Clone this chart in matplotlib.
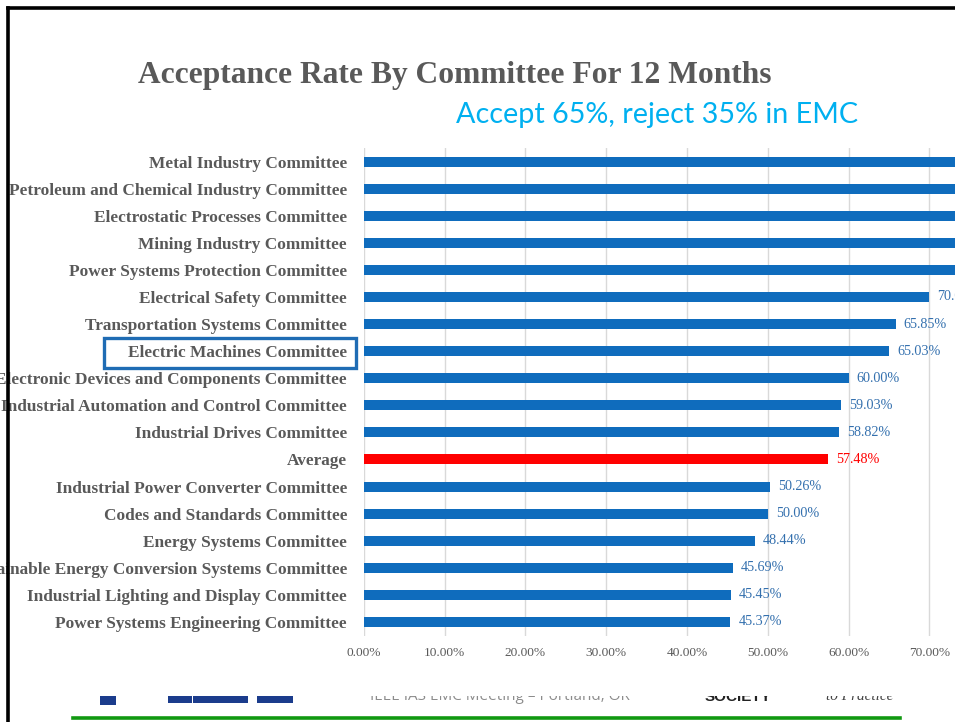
import matplotlib
matplotlib.use("Agg")
import matplotlib.pyplot as plt
from matplotlib.patches import Rectangle
from matplotlib.lines import Line2D

# ---------------- data ----------------
committees = [
    "Metal Industry Committee",
    "Petroleum and Chemical Industry Committee",
    "Electrostatic Processes Committee",
    "Mining Industry Committee",
    "Power Systems Protection Committee",
    "Electrical Safety Committee",
    "Transportation Systems Committee",
    "Electric Machines Committee",
    "Electronic Devices and Components Committee",
    "Industrial Automation and Control Committee",
    "Industrial Drives Committee",
    "Average",
    "Industrial Power Converter Committee",
    "Codes and Standards Committee",
    "Energy Systems Committee",
    "Sustainable Energy Conversion Systems Committee",
    "Industrial Lighting and Display Committee",
    "Power Systems Engineering Committee",
]
# acceptance rate in percent (first five exceed the visible range, estimated)
rates = [100.00, 90.00, 85.71, 80.00, 75.00, 70.00, 65.85, 65.03, 60.00,
         59.03, 58.82, 57.48, 50.26, 50.00, 48.44, 45.69, 45.45, 45.37]
xticks = [0, 10, 20, 30, 40, 50, 60, 70]
xtick_labels = ["0.00%", "10.00%", "20.00%", "30.00%", "40.00%", "50.00%", "60.00%", "70.00%"]

title = "Acceptance Rate By Committee For 12 Months"
subtitle = "Accept 65%, reject 35% in EMC"
footer = "IEEE IAS EMC Meeting \u2013 Portland, OR"

BLUE = "#0F6CBD"
RED = "#FF0000"
LABEL_BLUE = "#3470AE"
GRAY = "#595959"
SERIF = ["Liberation Serif", "DejaVu Serif"]

W, H = 955, 722
fig = plt.figure(figsize=(W / 100, H / 100), dpi=100)
fig.patch.set_facecolor("white")

# ---------------- chart axes ----------------
ax_l, ax_r, ax_t, ax_b = 363.7, 955.0, 148.0, 635.5
ax = fig.add_axes([ax_l / W, (H - ax_b) / H, (ax_r - ax_l) / W, (ax_b - ax_t) / H])
ypos = list(range(len(committees)))
colors = [RED if c == "Average" else BLUE for c in committees]
ax.barh(ypos, rates, height=0.37, color=colors, zorder=3)
ax.set_xlim(0, 73.18)
ax.set_ylim(17.5, -0.5)
ax.set_yticks(ypos)
ax.set_yticklabels(committees, fontfamily=SERIF, fontweight="bold",
                   fontsize=12.4, color=GRAY)
ax.set_xticks(xticks)
ax.set_xticklabels(xtick_labels, fontfamily=SERIF, fontsize=9.6, color=GRAY)
ax.tick_params(axis="y", length=0, pad=12)
ax.tick_params(axis="x", length=0, pad=8)
for s in ax.spines.values():
    s.set_visible(False)
ax.grid(axis="x", color="#D9D9D9", linewidth=1.0, zorder=0)
ax.grid(axis="y", visible=False)
for y, v, c in zip(ypos, rates, committees):
    ax.text(v + 1.0, y, f"{v:.2f}%", va="center", ha="left",
            fontfamily=SERIF, fontsize=10.2,
            color=(RED if c == "Average" else LABEL_BLUE), clip_on=True)

# ---------------- overlay (slide decorations) ----------------
ov = fig.add_axes([0, 0, 1, 1], facecolor="none")
ov.set_xlim(0, W)
ov.set_ylim(H, 0)
ov.axis("off")

# slide frame
ov.add_line(Line2D([8, W], [8, 8], color="black", lw=2.6))
ov.add_line(Line2D([8, 8], [8, H], color="black", lw=2.6))

# title and subtitle
ov.text(455, 75.5, title, ha="center", va="center", fontfamily=SERIF,
        fontweight="bold", fontsize=22.7, color=GRAY)
ov.text(657, 115.5, subtitle, ha="center", va="center",
        fontfamily=["Lato", "DejaVu Sans"], fontsize=20.7, color="#00B0F0")

# highlight box around Electric Machines Committee
ov.add_patch(Rectangle((104, 337.5), 252, 30, fill=False, edgecolor="#1F6CB4",
                       lw=2.4))

# footer (partially hidden)
ov.text(500, 697, footer, ha="center", va="center",
        fontfamily=["Open Sans", "DejaVu Sans"], fontsize=11, color="#8C8C8C")
ov.text(738, 697, "SOCIETY", ha="center", va="center",
        fontfamily=["Liberation Sans"], fontweight="bold", fontsize=11, color="#222222")
ov.text(860, 697, "to Practice", ha="center", va="center",
        fontfamily=["Liberation Serif"], style="italic", fontsize=11, color="#444444")
for x0, w0 in [(168, 24), (193, 30), (212, 36), (257, 36)]:
    ov.add_patch(Rectangle((x0, 693), w0, 10, color="#1B3C8C", lw=0))
ov.add_patch(Rectangle((100, 693), 16, 12, color="#1B3C8C", lw=0))
ov.add_patch(Rectangle((60, 670), 880, 26, color="white", lw=0, zorder=5))
ov.add_line(Line2D([73, 900], [717.5, 717.5], color="#119911", lw=2.6, zorder=6))

fig.savefig("out.png", dpi=100, facecolor="white")
